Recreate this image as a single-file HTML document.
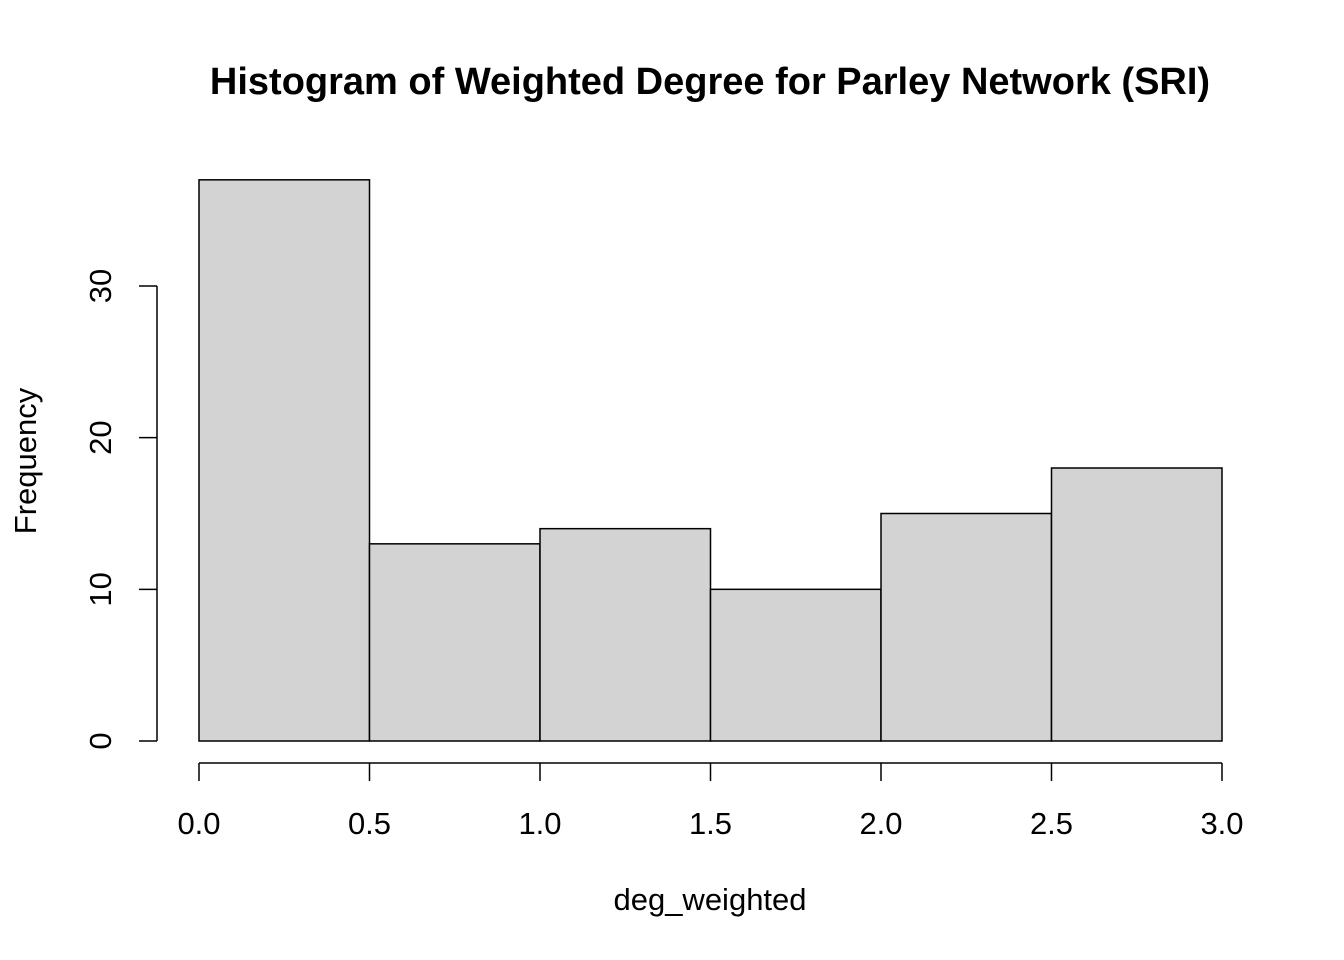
<!DOCTYPE html>
<html><head><meta charset="utf-8"><style>body{margin:0;background:#fff}svg{display:block}text{font-family:"Liberation Sans",Arial,sans-serif}</style></head>
<body>
<svg id="c" width="1344" height="960"></svg>
<script>
const breaks=[0,0.5,1,1.5,2,2.5,3];
const counts=[37,13,14,10,15,18];
const xTicks=["0.0","0.5","1.0","1.5","2.0","2.5","3.0"];
const yTicks=[0,10,20,30];
const svg=document.getElementById('c');
const NS='http://www.w3.org/2000/svg';
const X=v=>199+v*(1222-199)/3;
const Y=v=>741-v*(741-286)/30;
function mk(t,a){const e=document.createElementNS(NS,t);for(const k in a)e.setAttribute(k,a[k]);svg.appendChild(e);return e;}
let t=mk('text',{x:710,y:94,'text-anchor':'middle',style:'font-size:38px;font-weight:bold'});t.textContent='Histogram of Weighted Degree for Parley Network (SRI)';


for(let i=0;i<counts.length;i++){
 const r=mk('rect',{x:X(breaks[i]),y:Y(counts[i]),width:X(breaks[i+1])-X(breaks[i]),height:Y(0)-Y(counts[i]),fill:'#d3d3d3',stroke:'#000','stroke-width':1.5});
 
 
}
let ax=mk('line',{x1:X(0),x2:X(3),y1:763,y2:763,stroke:'#000','stroke-width':1.5});


breaks.forEach((b,i)=>{mk('line',{x1:X(b),x2:X(b),y1:763,y2:781,stroke:'#000','stroke-width':1.5});
 const l=mk('text',{x:X(b),y:834,'text-anchor':'middle',style:'font-size:31px'});l.textContent=xTicks[i];
 
 });
let ay=mk('line',{x1:157,x2:157,y1:Y(0),y2:Y(30),stroke:'#000','stroke-width':1.5});


yTicks.forEach(v=>{mk('line',{x1:139,x2:157,y1:Y(v),y2:Y(v),stroke:'#000','stroke-width':1.5});
 const l=mk('text',{x:111,y:Y(v),'text-anchor':'middle',style:'font-size:31px',transform:`rotate(-90 111 ${Y(v)})`});l.textContent=v;
 
 });
let xl=mk('text',{x:710,y:910,'text-anchor':'middle',style:'font-size:31px'});xl.textContent='deg_weighted';


let yl=mk('text',{x:36,y:461,'text-anchor':'middle',style:'font-size:31px',transform:'rotate(-90 36 461)'});yl.textContent='Frequency';


</script>
</body></html>
